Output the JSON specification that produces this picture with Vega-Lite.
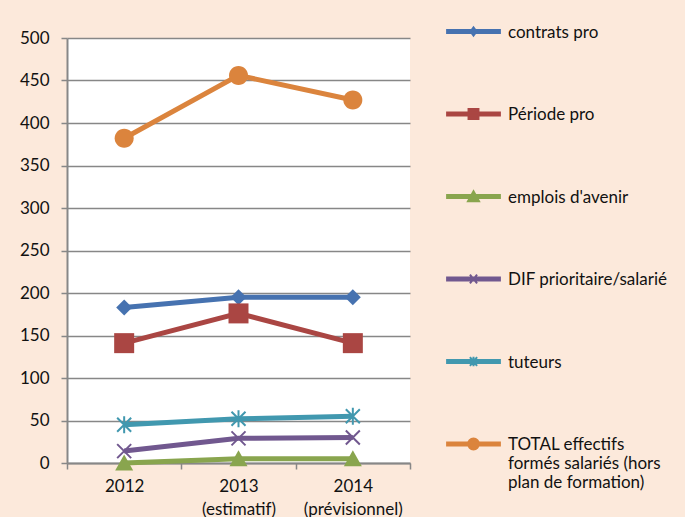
{
  "$schema": "https://vega.github.io/schema/vega-lite/v6.json",
  "width": 343,
  "height": 425,
  "autosize": {"type": "none"},
  "padding": {"left": 67, "top": 38, "right": 275, "bottom": 54},
  "background": "#FCE9DB",
  "view": {"fill": "white", "stroke": null},
  "config": {"font": "Lato"},
  "data": {
    "values": [
      {"annee": "2012", "serie": "\u00a0contrats pro", "valeur": 183},
      {"annee": "2013|(estimatif)", "serie": "\u00a0contrats pro", "valeur": 195},
      {"annee": "2014|(prévisionnel)", "serie": "\u00a0contrats pro", "valeur": 195},
      {"annee": "2012", "serie": "Période pro", "valeur": 141},
      {"annee": "2013|(estimatif)", "serie": "Période pro", "valeur": 176},
      {"annee": "2014|(prévisionnel)", "serie": "Période pro", "valeur": 141},
      {"annee": "2012", "serie": "emplois d'avenir", "valeur": 0},
      {"annee": "2013|(estimatif)", "serie": "emplois d'avenir", "valeur": 5},
      {"annee": "2014|(prévisionnel)", "serie": "emplois d'avenir", "valeur": 5},
      {"annee": "2012", "serie": "DIF prioritaire/salarié", "valeur": 14},
      {"annee": "2013|(estimatif)", "serie": "DIF prioritaire/salarié", "valeur": 29},
      {"annee": "2014|(prévisionnel)", "serie": "DIF prioritaire/salarié", "valeur": 30},
      {"annee": "2012", "serie": "\u00a0tuteurs", "valeur": 45},
      {"annee": "2013|(estimatif)", "serie": "\u00a0tuteurs", "valeur": 52},
      {"annee": "2014|(prévisionnel)", "serie": "\u00a0tuteurs", "valeur": 55},
      {"annee": "2012", "serie": "TOTAL effectifs|formés salariés (hors|plan de formation)", "valeur": 382},
      {"annee": "2013|(estimatif)", "serie": "TOTAL effectifs|formés salariés (hors|plan de formation)", "valeur": 456},
      {"annee": "2014|(prévisionnel)", "serie": "TOTAL effectifs|formés salariés (hors|plan de formation)", "valeur": 427}
    ]
  },
  "encoding": {
    "x": {
      "field": "annee", "type": "nominal",
      "scale": {"type": "band", "paddingInner": 0, "paddingOuter": 0},
      "axis": {
        "title": null, "labelAngle": 0, "tickBand": "extent", "grid": false,
        "domainColor": "#878787", "domainWidth": 2, "ticks": true, "tickSize": 6,
        "tickColor": "#878787", "tickWidth": 1.5, "labelFontSize": 17, "labelColor": "#111",
        "labelPadding": 9, "labelLineHeight": 23, "labelBaseline": "top",
        "labelExpr": "split(datum.label, '|')"
      }
    },
    "y": {
      "field": "valeur", "type": "quantitative",
      "scale": {"domain": [0, 500], "nice": false},
      "axis": {
        "title": null, "values": [0, 50, 100, 150, 200, 250, 300, 350, 400, 450, 500],
        "grid": true, "gridColor": "#878787", "gridWidth": 1.5,
        "domainColor": "#878787", "domainWidth": 2, "tickColor": "#878787", "tickWidth": 1.5,
        "tickSize": 6, "labelFontSize": 17, "labelColor": "#111", "labelPadding": 12
      }
    },
    "color": {
      "field": "serie", "type": "nominal",
      "scale": {
        "domain": ["\u00a0contrats pro", "Période pro", "emplois d'avenir", "DIF prioritaire/salarié", "\u00a0tuteurs", "TOTAL effectifs|formés salariés (hors|plan de formation)"],
        "range": ["#4672B0", "#AA4643", "#89A54E", "#71588F", "#4198AF", "#DB843D"]
      },
      "legend": {
        "title": null, "orient": "none", "legendX": 378, "legendY": -35, "padding": 0,
        "symbolSize": 3025, "rowPadding": 44.5, "labelFontSize": 17, "labelColor": "#111",
        "labelOffset": 6, "labelLimit": 300, "labelBaseline": "alphabetic", "labelLineHeight": 23,
        "labelExpr": "split(datum.label, '|')",
        "encode": {
          "symbols": {
            "update": {
              "shape": {"signal": "indexof(datum.value, 'contrats') >= 0 ? 'M-0.96,-0.055H0.96V0.055H-0.96Z M-0.11,0L0,-0.15L0.11,0L0,0.15Z' : indexof(datum.value, 'Période') >= 0 ? 'M-0.96,-0.055H0.96V0.055H-0.96Z M-0.18,-0.18H0.18V0.18H-0.18Z' : indexof(datum.value, 'emplois') >= 0 ? 'M-0.96,-0.055H0.96V0.055H-0.96Z M0,-0.19L0.2,0.17L-0.2,0.17Z' : indexof(datum.value, 'DIF') >= 0 ? 'M-0.96,-0.055H0.96V0.055H-0.96Z M-0.13,-0.16L0.13,0.16 M-0.13,0.16L0.13,-0.16' : indexof(datum.value, 'tuteurs') >= 0 ? 'M-0.96,-0.055H0.96V0.055H-0.96Z M-0.13,-0.16L0.13,0.16 M-0.13,0.16L0.13,-0.16 M0,-0.17L0,0.17' : 'M-0.96,-0.055H0.96V0.055H-0.96Z M-0.2,0A0.2,0.2 0 1,1 0.2,0A0.2,0.2 0 1,1 -0.2,0Z'"},
              "fill": {"scale": "color", "field": "value"},
              "stroke": {"scale": "color", "field": "value"},
              "strokeWidth": {"value": 2},
              "opacity": {"value": 1},
              "fillOpacity": {"value": 1}
            }
          },
          "labels": {"update": {"dy": {"value": 6}}}
        }
      }
    }
  },
  "layer": [
    {"mark": {"type": "line", "strokeWidth": 5}},
    {
      "transform": [{"filter": "indexof(datum.serie, 'contrats') >= 0"}],
      "mark": {"type": "point", "filled": true, "opacity": 1, "size": 400, "shape": "M-0.8,0L0,-0.8L0.8,0L0,0.8Z"}
    },
    {
      "transform": [{"filter": "indexof(datum.serie, 'Période') >= 0"}],
      "mark": {"type": "point", "filled": true, "opacity": 1, "size": 400, "shape": "M-1,-1H1V1H-1Z"}
    },
    {
      "transform": [{"filter": "indexof(datum.serie, 'emplois') >= 0"}],
      "mark": {"type": "point", "filled": true, "opacity": 1, "size": 400, "shape": "M0,-0.85L0.9,0.75L-0.9,0.75Z"}
    },
    {
      "transform": [{"filter": "indexof(datum.serie, 'TOTAL') >= 0"}],
      "mark": {"type": "point", "filled": true, "opacity": 1, "size": 400, "shape": "M-0.95,0A0.95,0.95 0 1,1 0.95,0A0.95,0.95 0 1,1 -0.95,0Z"}
    },
    {
      "transform": [{"filter": "indexof(datum.serie, 'DIF') >= 0"}],
      "mark": {"type": "point", "filled": false, "opacity": 1, "size": 400, "strokeWidth": 2, "shape": "M-0.7,-0.7L0.7,0.7M-0.7,0.7L0.7,-0.7"}
    },
    {
      "transform": [{"filter": "indexof(datum.serie, 'tuteurs') >= 0"}],
      "mark": {"type": "point", "filled": false, "opacity": 1, "size": 400, "strokeWidth": 2, "shape": "M-0.7,-0.7L0.7,0.7M-0.7,0.7L0.7,-0.7M0,-0.85L0,0.85"}
    }
  ]
}
